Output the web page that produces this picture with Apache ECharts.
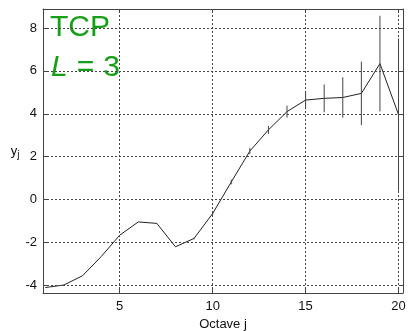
<!DOCTYPE html>
<html>
<head>
<meta charset="utf-8">
<script src="https://cdn.jsdelivr.net/npm/echarts@6/dist/echarts.min.js"></script>
<style>
  html, body { margin: 0; padding: 0; background: #fff; }
  #chart { width: 408px; height: 331px; }
</style>
</head>
<body>
<div id="chart"></div>
<script>
// Octave index j
const octaves = [1, 2, 3, 4, 5, 6, 7, 8, 9, 10, 11, 12, 13, 14, 15, 16, 17, 18, 19, 20];
// Log-scale energy y_j per octave
const yj = [-4.10, -3.98, -3.55, -2.66, -1.66, -1.04, -1.11, -2.20, -1.81, -0.65,
            0.82, 2.26, 3.25, 4.10, 4.64, 4.72, 4.76, 4.95, 6.34, 3.96];
// Half-width of the confidence interval per octave
const ciHalf = [0, 0, 0, 0, 0, 0, 0, 0, 0.04, 0.07,
                0.11, 0.15, 0.19, 0.28, 0.43, 0.65, 0.94, 1.48, 2.23, 3.55];
// Tick labels
const xTicks = [5, 10, 15, 20];
const yTicks = [-4, -2, 0, 2, 4, 6, 8];

const xMin = 0.874, xMax = 20.24;
const yMin = -4.354, yMax = 8.885;

const frameColor = '#444';
const gridColor = '#444';
const labelFont = 'Liberation Sans, Arial, sans-serif';
const green = '#17a017';

const lineData = octaves.map((j, i) => [j, yj[i]]);
const barData = octaves.map((j, i) => [j, yj[i] - ciHalf[i], yj[i] + ciHalf[i]]);

const gridLines = [
  ...xTicks.map(v => ({ xAxis: v })),
  ...yTicks.map(v => ({ yAxis: v }))
];

function frameAxis(extra) {
  return Object.assign({
    type: 'value',
    axisLine: { show: true, onZero: false, lineStyle: { color: frameColor, width: 1 } },
    axisTick: { show: true, inside: true, length: 4, lineStyle: { color: frameColor } },
    splitLine: { show: false },
    axisLabel: { show: false }
  }, extra);
}

const chart = echarts.init(document.getElementById('chart'), null, { renderer: 'canvas' });
chart.setOption({
  animation: false,
  backgroundColor: '#fff',
  grid: { left: 43, right: 5, top: 9, bottom: 38, containLabel: false, outerBoundsMode: 'none' },
  xAxis: [
    frameAxis({
      min: xMin, max: xMax, position: 'bottom',
      axisTick: { show: true, inside: true, length: 4, customValues: xTicks, lineStyle: { color: frameColor } },
      axisLabel: { show: true, customValues: xTicks, color: '#111', fontSize: 13, fontFamily: labelFont, margin: 7 },
      name: 'Octave j', nameLocation: 'middle', nameGap: 23,
      nameTextStyle: { color: '#111', fontSize: 13, fontFamily: labelFont }
    }),
    frameAxis({
      min: xMin, max: xMax, position: 'top',
      axisTick: { show: true, inside: true, length: 4, customValues: xTicks, lineStyle: { color: frameColor } }
    })
  ],
  yAxis: [
    frameAxis({
      min: yMin, max: yMax, position: 'left',
      axisTick: { show: true, inside: true, length: 4, customValues: yTicks, lineStyle: { color: frameColor } },
      axisLabel: { show: true, customValues: yTicks, color: '#111', fontSize: 13, fontFamily: labelFont, margin: 6 },
      name: '{a|y}{b|j}', nameLocation: 'middle', nameRotate: 0, nameGap: 22,
      nameTextStyle: {
        fontFamily: labelFont,
        rich: {
          a: { fontSize: 13, color: '#111', fontFamily: labelFont },
          b: { fontSize: 10, color: '#111', fontFamily: labelFont, verticalAlign: 'bottom', padding: [8, 0, 0, 0] }
        }
      }
    }),
    frameAxis({
      min: yMin, max: yMax, position: 'right',
      axisTick: { show: true, inside: true, length: 4, customValues: yTicks, lineStyle: { color: frameColor } }
    })
  ],
  graphic: [
    {
      type: 'text', left: 50, top: 13,
      style: { text: 'TCP', fill: green, font: '30px Liberation Sans, Arial, sans-serif' }
    },
    {
      type: 'text', left: 51, top: 53,
      style: {
        text: '{i|L}{s|=}{t|3}',
        fill: green,
        font: '30px Liberation Sans, Arial, sans-serif',
        rich: {
          i: { fontStyle: 'italic', fontSize: 30, fill: green, fontFamily: labelFont },
          s: { fontSize: 30, fill: green, fontFamily: labelFont, padding: [0, 9, 0, 9] },
          t: { fontSize: 30, fill: green, fontFamily: labelFont }
        }
      }
    }
  ],
  series: [
    {
      // dashed grid drawn at the tick values
      type: 'line',
      data: [],
      silent: true,
      markLine: {
        silent: true,
        symbol: 'none',
        label: { show: false },
        lineStyle: { color: gridColor, type: [2, 2], width: 1 },
        data: gridLines
      },
      z: 1
    },
    {
      type: 'line',
      data: lineData,
      showSymbol: false,
      symbol: 'none',
      lineStyle: { color: '#222', width: 1 },
      z: 3
    },
    {
      type: 'custom',
      clip: true,
      data: barData,
      renderItem: function (params, api) {
        const j = api.value(0);
        const p1 = api.coord([j, api.value(1)]);
        const p2 = api.coord([j, api.value(2)]);
        return {
          type: 'line',
          shape: { x1: p1[0], y1: p1[1], x2: p2[0], y2: p2[1] },
          style: { stroke: '#444', lineWidth: 1 }
        };
      },
      encode: { x: 0, y: [1, 2] },
      z: 4
    }
  ]
});
</script>
</body>
</html>
